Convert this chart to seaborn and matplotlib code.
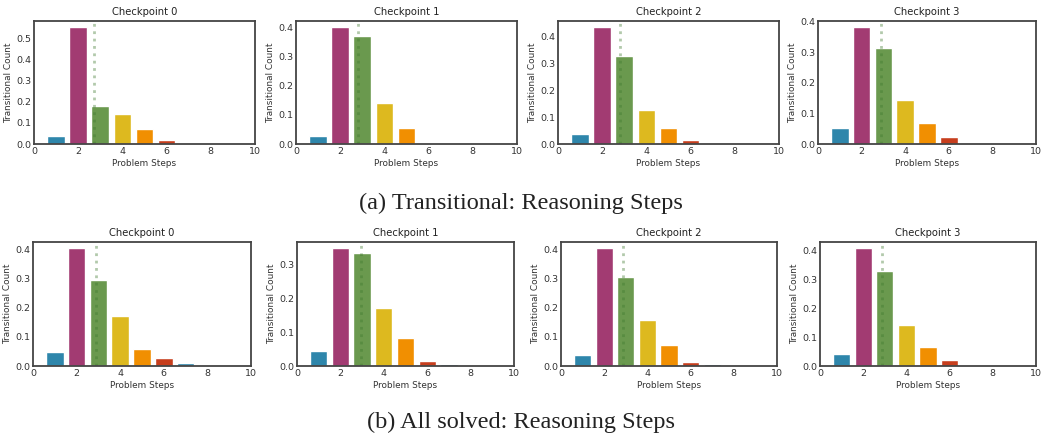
import numpy as np
import pandas as pd
import seaborn as sns
import matplotlib
matplotlib.use("Agg")
import matplotlib.pyplot as plt

steps = [1, 2, 3, 4, 5, 6, 7]
checkpoints = ["Checkpoint 0", "Checkpoint 1", "Checkpoint 2", "Checkpoint 3"]

# (a) Transitional
trans_ck0 = [0.037, 0.555, 0.179, 0.144, 0.072, 0.019, 0.0]
trans_ck1 = [0.027, 0.403, 0.373, 0.141, 0.054, 0.0, 0.003]
trans_ck2 = [0.036, 0.437, 0.329, 0.128, 0.058, 0.016, 0.005]
trans_ck3 = [0.051, 0.383, 0.313, 0.145, 0.069, 0.024, 0.004]

# (b) All solved
solved_ck0 = [0.049, 0.405, 0.296, 0.171, 0.057, 0.026, 0.009]
solved_ck1 = [0.044, 0.350, 0.334, 0.173, 0.084, 0.015, 0.006]
solved_ck2 = [0.038, 0.406, 0.305, 0.158, 0.073, 0.013, 0.006]
solved_ck3 = [0.043, 0.408, 0.328, 0.143, 0.066, 0.020, 0.005]

captions = ["(a) Transitional: Reasoning Steps", "(b) All solved: Reasoning Steps"]
colors6 = ["#2E86AB", "#A23B72", "#6A994E", "#DDB91F", "#F18F01", "#C73E1D"]

rows = [[trans_ck0, trans_ck1, trans_ck2, trans_ck3],
        [solved_ck0, solved_ck1, solved_ck2, solved_ck3]]

sns.set_style("white")
plt.rcParams.update({
    "axes.edgecolor": "#444444",
    "axes.linewidth": 1.3,
    "xtick.color": "#333333",
    "ytick.color": "#333333",
    "axes.labelcolor": "#333333",
    "text.color": "#222222",
})
plt.rcParams["font.family"] = ["DejaVu Sans"]

W, H = 1042, 438
fig = plt.figure(figsize=(W / 100, H / 100), dpi=100)

lefts = [[34, 296, 558, 818], [33, 297, 561, 820]]
widths = [[221, 221, 221, 218], [218, 217, 216, 216]]
tops = [21, 242]
bottoms = [144, 366]

palette = {s: colors6[i % 6] for i, s in enumerate(steps)}

for r in range(2):
    for c in range(4):
        vals = rows[r][c]
        x0 = lefts[r][c] / W
        w = widths[r][c] / W
        y0 = (H - bottoms[r]) / H
        h = (bottoms[r] - tops[r]) / H
        ax = fig.add_axes([x0, y0, w, h])
        df = pd.DataFrame({"step": steps, "val": vals})
        sns.barplot(data=df, x="step", y="val", hue="step", palette=palette,
                    native_scale=True, legend=False, width=0.8, saturation=1,
                    edgecolor="white", linewidth=1.0, ax=ax)
        mean = np.sum(np.array(steps) * np.array(vals)) / np.sum(vals)
        ax.axvline(mean, color="#3f7a2f", alpha=0.4, linestyle=":", linewidth=2)
        ax.set_xlim(0, 10)
        ax.set_ylim(0, max(vals) * 1.05)
        ax.set_xticks([0, 2, 4, 6, 8, 10])
        ax.tick_params(labelsize=6.8, length=0, pad=2)
        ax.set_xlabel("Problem Steps", fontsize=6.4, labelpad=2)
        ax.set_ylabel("Transitional Count", fontsize=6.4, labelpad=2)
        ax.set_title(checkpoints[c], fontsize=7.2, pad=4)

fig.text(0.5, 1 - 203 / H, captions[0], ha="center", va="center",
         fontsize=17.5, family="Liberation Serif")
fig.text(0.5, 1 - 422 / H, captions[1], ha="center", va="center",
         fontsize=17.5, family="Liberation Serif")

fig.savefig("out.png", dpi=100)
